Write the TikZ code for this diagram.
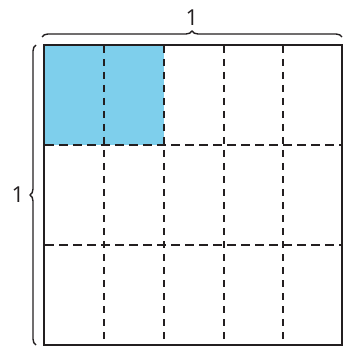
\documentclass[tikz,border=0pt]{standalone}
\usepackage{fontspec}
\setmainfont{Open Sans}
\usetikzlibrary{decorations.pathreplacing}
\definecolor{fillblue}{RGB}{126,207,236}
\definecolor{ink}{RGB}{35,31,32}
\tikzset{
  grid dash/.style={ink, line width=2pt, dash pattern=on 7pt off 6pt},
  outline/.style={ink, line width=2pt},
  bracestyle/.style={ink, line width=1.4pt, decorate, decoration={brace, amplitude=6pt}},
  lbl/.style={font=\fontsize{22}{24}\selectfont, text=ink, inner sep=0pt}
}
\begin{document}
\begin{tikzpicture}[x=1pt,y=-1pt]
\useasboundingbox (0,0) rectangle (343,347);
\fill[fillblue] (44,45) rectangle (164,145);
\foreach \x in {104,164,224,283} {
  \draw[grid dash] (\x,46) -- (\x,344);
}
\foreach \y in {145,245} {
  \draw[grid dash, dash pattern=on 9pt off 5pt] (45,\y) -- (341,\y);
}
\draw[outline] (44,45) rectangle (342,345);
\coordinate (tl) at (42,37);
\coordinate (tr) at (342,37);
\coordinate (lb) at (36,345);
\coordinate (lt) at (36,45);
\draw[bracestyle] (tl) -- (tr) node[midway, above=11pt, lbl] (top1) {1};
\draw[bracestyle] (lb) -- (lt) node[midway, left=11pt, lbl] (left1) {1};
\end{tikzpicture}
\end{document}
